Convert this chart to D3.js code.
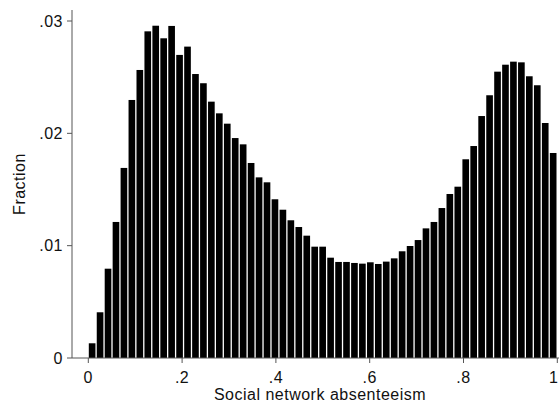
<!DOCTYPE html>
<html>
<head>
<meta charset="utf-8">
<script src="https://cdn.jsdelivr.net/npm/d3@7"></script>
<style>
  body { margin: 0; background: #fff; }
  svg { display: block; font-family: "Liberation Sans", Arial, Helvetica, sans-serif; }
  text { font-size: 16px; letter-spacing: 0.5px; fill: #111; }
</style>
</head>
<body>
<svg id="chart" width="559" height="404"></svg>
<script>
// histogram: 59 equal bins on [0, 1]
const nBins = 59;
const fractions = [
  0.00131, 0.00407, 0.00795, 0.01211, 0.01692, 0.02297, 0.02564, 0.02908, 0.02958, 0.02846,
  0.02956, 0.02698, 0.02772, 0.02528, 0.02446, 0.02282, 0.02178, 0.02086, 0.01958, 0.01902,
  0.01736, 0.01608, 0.01564, 0.01413, 0.01320, 0.01226, 0.01166, 0.01089, 0.00991, 0.00991,
  0.00893, 0.00855, 0.00855, 0.00846, 0.00840, 0.00852, 0.00837, 0.00858, 0.00887, 0.00950,
  0.00997, 0.01050, 0.01154, 0.01211, 0.01335, 0.01460, 0.01525, 0.01769, 0.01887, 0.02154,
  0.02339, 0.02549, 0.02611, 0.02638, 0.02632, 0.02508, 0.02428, 0.02092, 0.01825
];
const xTicks = [0, 0.2, 0.4, 0.6, 0.8, 1];
const xTickLabels = ["0", ".2", ".4", ".6", ".8", "1"];
const yTicks = [0, 0.01, 0.02, 0.03];
const yTickLabels = ["0", ".01", ".02", ".03"];

const svg = d3.select("#chart");
const axisColor = "#555";

const x = d3.scaleLinear().domain([0, 1]).range([88.3, 557.3]);
const y = d3.scaleLinear().domain([0, 0.03]).range([358, 21]);

const bins = fractions.map((f, i) => ({ x0: i / nBins, x1: (i + 1) / nBins, f }));

// bars
svg.append("g").selectAll("rect")
  .data(bins)
  .join("rect")
    .attr("x", d => x(d.x0) + 0.5)
    .attr("width", d => x(d.x1) - x(d.x0) - 1.3)
    .attr("y", d => y(d.f))
    .attr("height", d => y(0) - y(d.f))
    .attr("fill", "#000");

// y axis
const gy = svg.append("g").attr("transform", "translate(72,0)");
gy.append("line")
  .attr("y1", 10).attr("y2", y(0))
  .attr("stroke", axisColor).attr("stroke-width", 1);
const yt = gy.selectAll("g.tick").data(yTicks).join("g")
  .attr("class", "tick")
  .attr("transform", d => `translate(0,${y(d)})`);
yt.append("line").attr("x1", -5).attr("x2", 0)
  .attr("stroke", axisColor).attr("stroke-width", 1);
yt.append("text")
  .attr("x", -9).attr("dy", "0.35em")
  .attr("text-anchor", "end")
  .text((d, i) => yTickLabels[i]);

// x axis
const gx = svg.append("g").attr("transform", `translate(0,${y(0)})`);
gx.append("line")
  .attr("x1", 72).attr("x2", 559)
  .attr("stroke", axisColor).attr("stroke-width", 1);
const xt = gx.selectAll("g.tick").data(xTicks).join("g")
  .attr("class", "tick")
  .attr("transform", d => `translate(${x(d)},0)`);
xt.append("line").attr("y1", 0).attr("y2", 5)
  .attr("stroke", axisColor).attr("stroke-width", 1);
xt.append("text")
  .attr("y", 25)
  .attr("text-anchor", (d, i) => i === xTicks.length - 1 ? "end" : "middle")
  .attr("dx", (d, i) => i === xTicks.length - 1 ? 1 : 0)
  .text((d, i) => xTickLabels[i]);

// titles
svg.append("text")
  .attr("x", 320).attr("y", 400)
  .attr("text-anchor", "middle")
  .text("Social network absenteeism");

svg.append("text")
  .attr("transform", `translate(25,${(10 + y(0)) / 2}) rotate(-90)`)
  .attr("text-anchor", "middle")
  .text("Fraction");
</script>
</body>
</html>
